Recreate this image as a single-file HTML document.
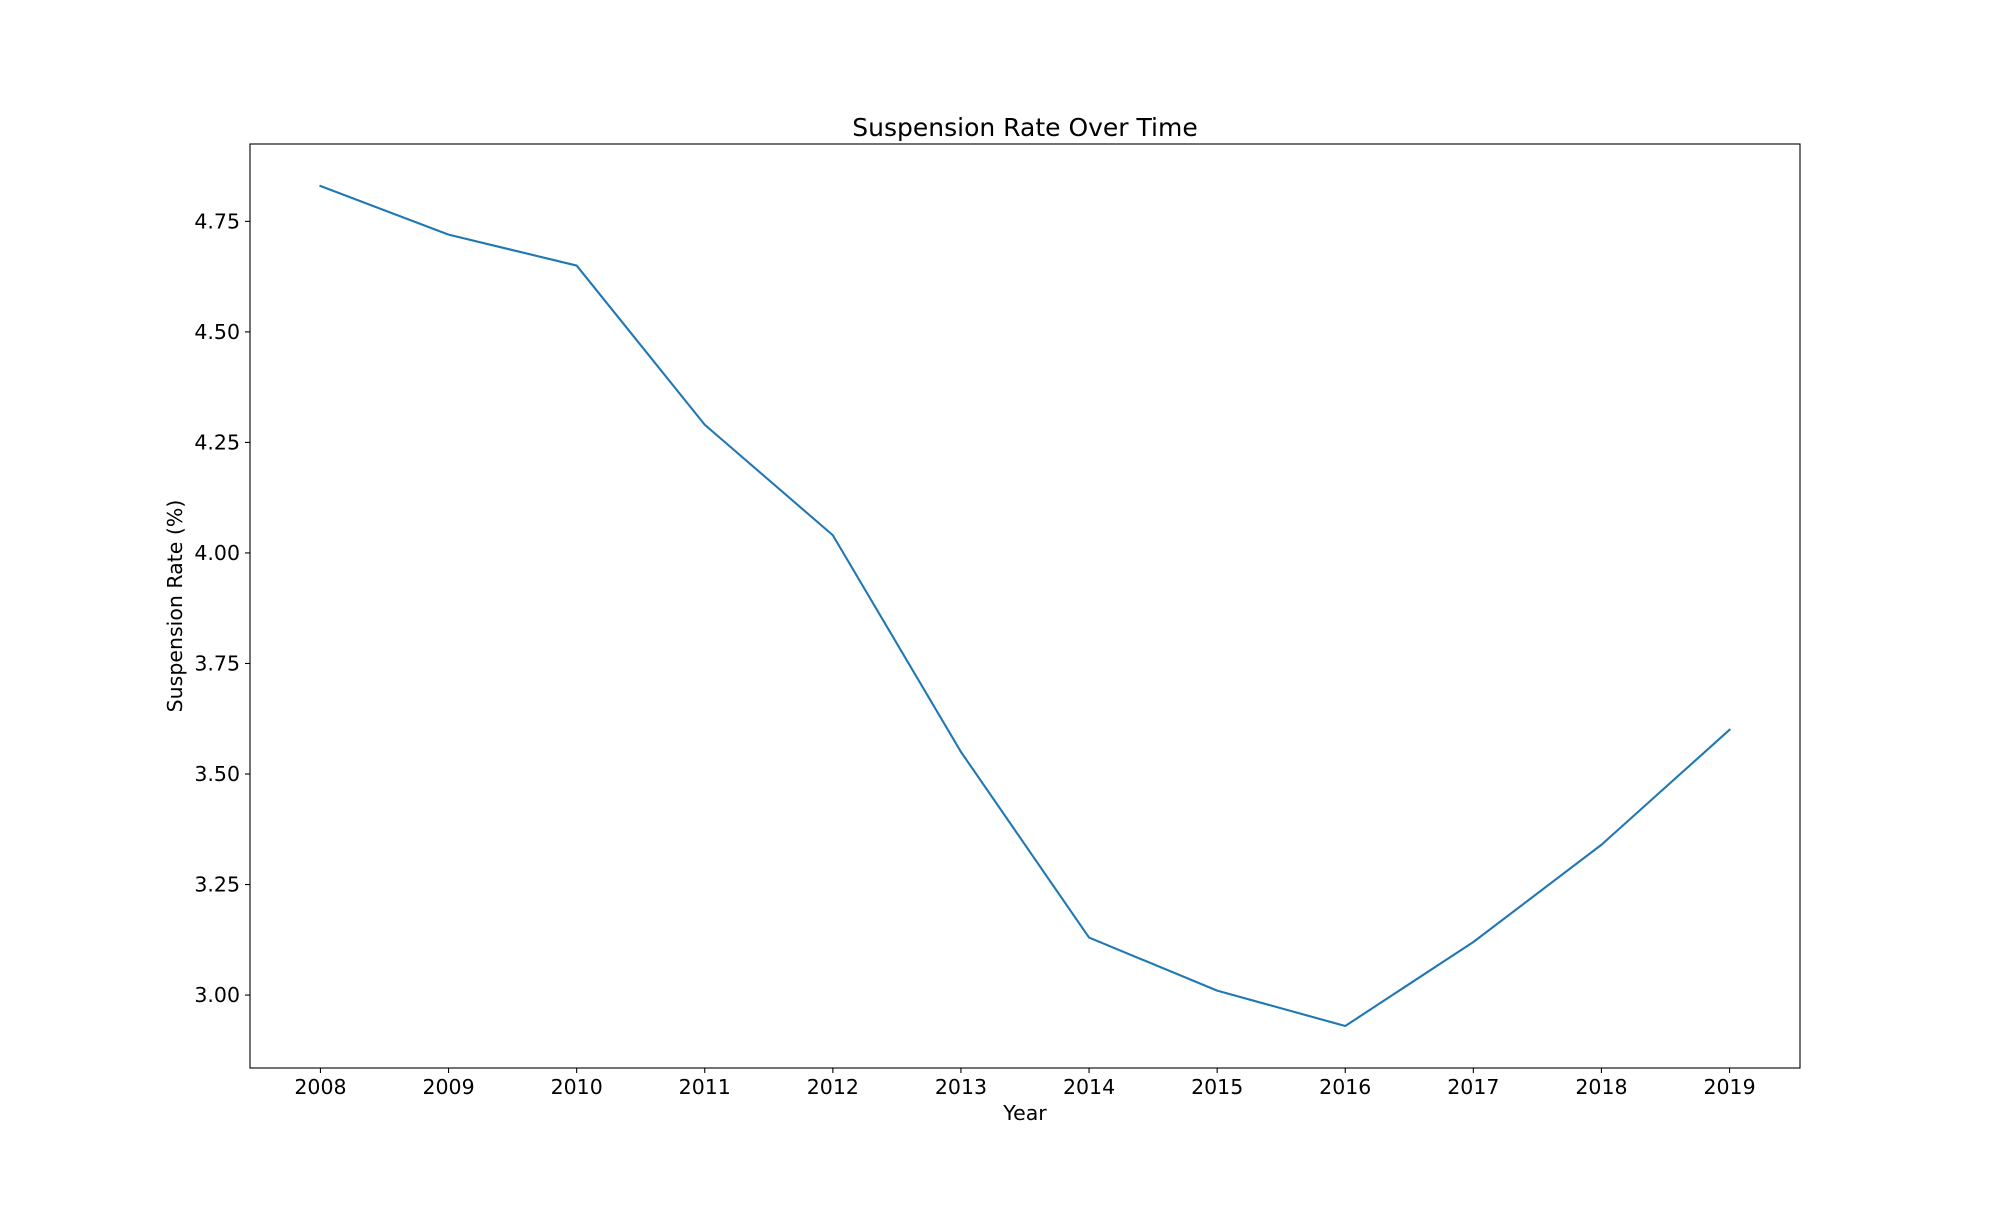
<!DOCTYPE html>
<html><head><meta charset="utf-8"><style>
body{margin:0;background:#fff}
svg text{font-family:"DejaVu Sans","Liberation Sans",sans-serif;fill:#000}
</style></head><body>
<svg id="chart" width="2000" height="1200" xmlns="http://www.w3.org/2000/svg">
<rect width="2000" height="1200" fill="#fff"/>
<g id="plot"></g>
</svg>
<script>
const years = [2008,2009,2010,2011,2012,2013,2014,2015,2016,2017,2018,2019];
const rates = [4.83,4.72,4.65,4.29,4.04,3.55,3.13,3.01,2.93,3.12,3.34,3.60];
const yTicks = [3.00,3.25,3.50,3.75,4.00,4.25,4.50,4.75];
const yTickLabels = ["3.00","3.25","3.50","3.75","4.00","4.25","4.50","4.75"];

const L=250,R=1800,T=144,B=1068;
const svg=document.getElementById('plot');
const NS='http://www.w3.org/2000/svg';
const xmin=Math.min(...years),xmax=Math.max(...years),xp=(xmax-xmin)*0.05;
const ymin0=Math.min(...rates),ymax0=Math.max(...rates),yp=(ymax0-ymin0)*0.05;
function xs(v){return L+(v-(xmin-xp))/((xmax+xp)-(xmin-xp))*(R-L);}
function ys(v){return B-(v-(ymin0-yp))/((ymax0+yp)-(ymin0-yp))*(B-T);}
function mk(tag,attrs,text){const e=document.createElementNS(NS,tag);for(const k in attrs)e.setAttribute(k,attrs[k]);if(text!==undefined)e.textContent=text;svg.appendChild(e);return e;}

years.forEach(y=>{
  const x=xs(y);
  const t=mk('line',{x1:x,x2:x,y1:B,y2:B+5,stroke:'#000','stroke-width':1.1});
  
  
  const l=mk('text',{x:x,y:B+26,'font-size':20.5,'text-anchor':'middle'},String(y));
  
  
});
yTicks.forEach((v,i)=>{
  const y=ys(v);
  const t=mk('line',{x1:L-5,x2:L,y1:y,y2:y,stroke:'#000','stroke-width':1.1});
  
  
  const l=mk('text',{x:L-10,y:y+7,'font-size':20.5,'text-anchor':'end'},yTickLabels[i]);
  
  
});
const pts=years.map((y,i)=>xs(y).toFixed(2)+','+ys(rates[i]).toFixed(2)).join(' ');
const line=mk('polyline',{points:pts,fill:'none',stroke:'#1f77b4','stroke-width':2.1,'stroke-linejoin':'round','stroke-linecap':'square'});


const frame=mk('rect',{x:L,y:T,width:R-L,height:B-T,fill:'none',stroke:'#000','stroke-width':1.1});


const title=mk('text',{x:(L+R)/2,y:136,'font-size':25,'text-anchor':'middle'},'Suspension Rate Over Time');


const xl=mk('text',{x:(L+R)/2,y:1131-11,'font-size':20.5,'text-anchor':'middle'},'Year');


const yl=mk('text',{x:0,y:0,'font-size':20.5,'text-anchor':'middle',transform:'translate(182,'+((T+B)/2)+') rotate(-90)'},'Suspension Rate (%)');


</script>
</body></html>
